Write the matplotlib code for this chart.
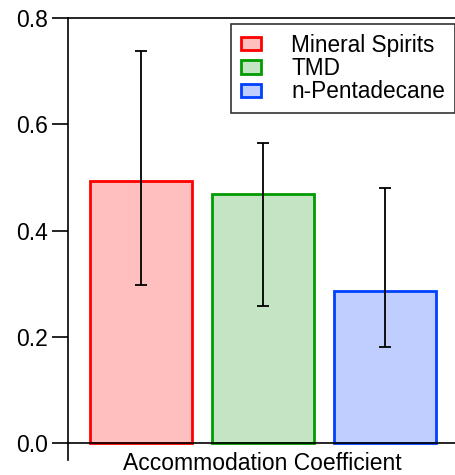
import matplotlib.pyplot as plt

# data
labels = ["Mineral Spirits", "TMD", "n-Pentadecane"]
values = [0.493, 0.469, 0.286]
err_hi = [0.738, 0.564, 0.480]
err_lo = [0.297, 0.258, 0.181]

edge_colors = ["#ff0000", "#009c00", "#0040ff"]
fill_colors = ["#ffbfbf", "#c3e5c3", "#bfcdff"]

plt.rcParams['font.family'] = ['Liberation Sans', 'DejaVu Sans']

fig = plt.figure(figsize=(4.55, 4.75), dpi=100)
ax_w = 1.0 - 68 / 455
ax = fig.add_axes([68 / 455, 15 / 475, ax_w, 442 / 475])

xs = list(range(len(values)))
yerr = [[v - lo for v, lo in zip(values, err_lo)],
        [hi - v for v, hi in zip(values, err_hi)]]

for x, v, lab, ec, fc in zip(xs, values, labels, edge_colors, fill_colors):
    ax.bar(x, v, width=0.836, color=fc, edgecolor=ec, linewidth=2, label=lab)
ax.errorbar(xs, values, yerr=yerr, fmt='none', ecolor='black',
            elinewidth=1.3, capsize=4, capthick=1.3)

ax.set_ylim(-0.032, 0.8)
ax.set_xlim(-0.598, -0.598 + 387 / 122)
ax.set_yticks([0.0, 0.2, 0.4, 0.6, 0.8])
ax.set_yticklabels(["0.0", "0.2", "0.4", "0.6", "0.8"])
ax.set_xticks([])

ax.spines['bottom'].set_position(('data', 0))
ax.spines['right'].set_visible(False)
for s in ['left', 'bottom', 'top']:
    ax.spines[s].set_linewidth(1.2)
ax.tick_params(axis='y', direction='out', length=11.5, width=1.2,
               labelsize=16.5, pad=3)

fig.text((123 + 402) / 2 / 455, 1 - 464 / 475, "Accommodation Coefficient",
         ha='center', va='center', fontsize=16.5)

leg = ax.legend(loc='upper left', bbox_to_anchor=(231 / 455, 1 - 24 / 475),
                bbox_transform=fig.transFigure, fontsize=16.3, frameon=True,
                fancybox=False, edgecolor='black', handlelength=0.9,
                handleheight=0.55, handletextpad=1.35, borderpad=0.42,
                labelspacing=0.02, borderaxespad=0)
leg.get_frame().set_linewidth(1.2)

fig.savefig("out.png", dpi=100)
